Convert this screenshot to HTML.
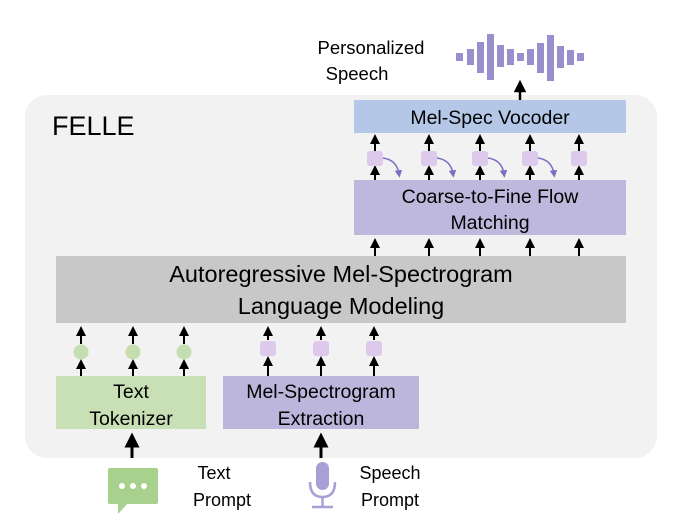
<!DOCTYPE html>
<html><head><meta charset="utf-8"><style>
body{margin:0;background:#fff;}
svg{display:block;font-family:"Liberation Sans","DejaVu Sans",sans-serif;}
</style></head><body>
<svg width="680" height="521" viewBox="0 0 680 521" xmlns="http://www.w3.org/2000/svg">
<defs>
<marker id="a" viewBox="0 0 10 10" refX="5" refY="5" markerWidth="5" markerHeight="5" orient="auto"><path d="M0,0L10,5L0,10z" fill="#000"/></marker>
<marker id="p" viewBox="0 0 10 10" refX="5" refY="5" markerWidth="5" markerHeight="5" orient="auto"><path d="M0,0L10,5L0,10z" fill="#7b6fc4"/></marker>
</defs>
<rect x="25" y="95" width="632" height="363" rx="22" fill="#f2f2f2"/>
<text x="52" y="135" font-size="27" fill="#000">FELLE</text>
<text x="371" y="54" font-size="18.5" text-anchor="middle">Personalized</text>
<text x="357" y="80" font-size="18.5" text-anchor="middle">Speech</text>
<g fill="#998fcc">
<rect x="456" y="53" width="7" height="8"/><rect x="467" y="49" width="7" height="16"/><rect x="477" y="42" width="7" height="31"/><rect x="487" y="34" width="7" height="46"/><rect x="497" y="45" width="7" height="22"/><rect x="507" y="49" width="7" height="16"/><rect x="517" y="53" width="7" height="8"/><rect x="527" y="49" width="7" height="16"/><rect x="537" y="43" width="7" height="30"/><rect x="547" y="35" width="7" height="46"/><rect x="557" y="46" width="7" height="22"/><rect x="567" y="50" width="7" height="15"/><rect x="577" y="53" width="7" height="8"/>
</g>
<g stroke="#000" stroke-width="2.5" marker-end="url(#a)">
<line x1="520" y1="100" x2="520" y2="86"/>
</g>
<rect x="354" y="100" width="272" height="33" fill="#b4c7e7"/>
<text x="490" y="124" font-size="19.5" text-anchor="middle">Mel-Spec Vocoder</text>
<g stroke="#000" stroke-width="2" marker-end="url(#a)">
<line x1="375" y1="151" x2="375" y2="139"/><line x1="429" y1="151" x2="429" y2="139"/><line x1="480" y1="151" x2="480" y2="139"/><line x1="530" y1="151" x2="530" y2="139"/><line x1="579" y1="151" x2="579" y2="139"/>
<line x1="375" y1="180" x2="375" y2="170"/><line x1="429" y1="180" x2="429" y2="170"/><line x1="480" y1="180" x2="480" y2="170"/><line x1="530" y1="180" x2="530" y2="170"/><line x1="579" y1="180" x2="579" y2="170"/>
</g>
<g fill="#dcc9ec">
<rect x="367" y="151" width="16" height="15" rx="3"/><rect x="421" y="151" width="16" height="15" rx="3"/><rect x="472" y="151" width="16" height="15" rx="3"/><rect x="522" y="151" width="16" height="15" rx="3"/><rect x="571" y="151" width="16" height="15" rx="3"/>
</g>
<g fill="none" stroke="#7b6fc4" stroke-width="1.5" marker-end="url(#p)">
<path d="M383,158 Q397,160 399,174"/><path d="M437,158 Q451,160 453,174"/><path d="M488,158 Q502,160 504,174"/><path d="M538,158 Q552,160 554,174"/>
</g>
<rect x="354" y="180" width="272" height="55" fill="#bfb8dd"/>
<text x="490" y="203" font-size="19.5" text-anchor="middle">Coarse-to-Fine Flow</text>
<text x="490" y="229" font-size="19.5" text-anchor="middle">Matching</text>
<g stroke="#000" stroke-width="2" marker-end="url(#a)">
<line x1="375" y1="256" x2="375" y2="243"/><line x1="429" y1="256" x2="429" y2="243"/><line x1="480" y1="256" x2="480" y2="243"/><line x1="530" y1="256" x2="530" y2="243"/><line x1="579" y1="256" x2="579" y2="243"/>
</g>
<rect x="56" y="256" width="570" height="67" fill="#c8c8c8"/>
<text x="341" y="282" font-size="23.5" text-anchor="middle">Autoregressive Mel-Spectrogram</text>
<text x="341" y="314" font-size="23.5" text-anchor="middle">Language Modeling</text>
<g stroke="#000" stroke-width="2" marker-end="url(#a)">
<line x1="81" y1="344" x2="81" y2="331"/><line x1="133" y1="344" x2="133" y2="331"/><line x1="184" y1="344" x2="184" y2="331"/>
<line x1="81" y1="376" x2="81" y2="364"/><line x1="133" y1="376" x2="133" y2="364"/><line x1="184" y1="376" x2="184" y2="364"/>
<line x1="268" y1="340" x2="268" y2="331"/><line x1="321" y1="340" x2="321" y2="331"/><line x1="374" y1="340" x2="374" y2="331"/>
<line x1="268" y1="376" x2="268" y2="361"/><line x1="321" y1="376" x2="321" y2="361"/><line x1="374" y1="376" x2="374" y2="361"/>
</g>
<g fill="#c5deb0"><circle cx="81" cy="352" r="7.5"/><circle cx="133" cy="352" r="7.5"/><circle cx="184" cy="352" r="7.5"/></g>
<g fill="#dcc9ec"><rect x="260" y="341" width="16" height="15" rx="3"/><rect x="313" y="341" width="16" height="15" rx="3"/><rect x="366" y="341" width="16" height="15" rx="3"/></g>
<rect x="56" y="376" width="150" height="53" fill="#c9e0b6"/>
<text x="131" y="398" font-size="19.5" text-anchor="middle">Text</text>
<text x="131" y="425" font-size="19.5" text-anchor="middle">Tokenizer</text>
<rect x="223" y="376" width="196" height="53" fill="#bcb6dc"/>
<text x="321" y="398" font-size="19.5" text-anchor="middle">Mel-Spectrogram</text>
<text x="321" y="425" font-size="19.5" text-anchor="middle">Extraction</text>
<g stroke="#000" stroke-width="3" marker-end="url(#a)">
<line x1="132" y1="458" x2="132" y2="440"/><line x1="321" y1="458" x2="321" y2="440"/>
</g>
<rect x="108" y="468" width="50" height="36" rx="2" fill="#a9d18e"/>
<path d="M118,503 L118,514 L128,503z" fill="#a9d18e"/>
<g fill="#fff"><circle cx="122" cy="486" r="3"/><circle cx="133" cy="486" r="3"/><circle cx="144" cy="486" r="3"/></g>
<rect x="316" y="462" width="13" height="28" rx="6.5" fill="#a79fd6"/>
<path d="M310,482 Q310,497 322.5,497 Q335,497 335,482" fill="none" stroke="#a79fd6" stroke-width="2.5"/>
<line x1="322.5" y1="497" x2="322.5" y2="506" stroke="#a79fd6" stroke-width="2.5"/>
<line x1="312" y1="507" x2="333" y2="507" stroke="#a79fd6" stroke-width="2.5"/>
<text x="214" y="479" font-size="18" text-anchor="middle">Text</text>
<text x="222" y="506" font-size="18" text-anchor="middle">Prompt</text>
<text x="390" y="479" font-size="18" text-anchor="middle">Speech</text>
<text x="390" y="506" font-size="18" text-anchor="middle">Prompt</text>
</svg>
</body></html>
